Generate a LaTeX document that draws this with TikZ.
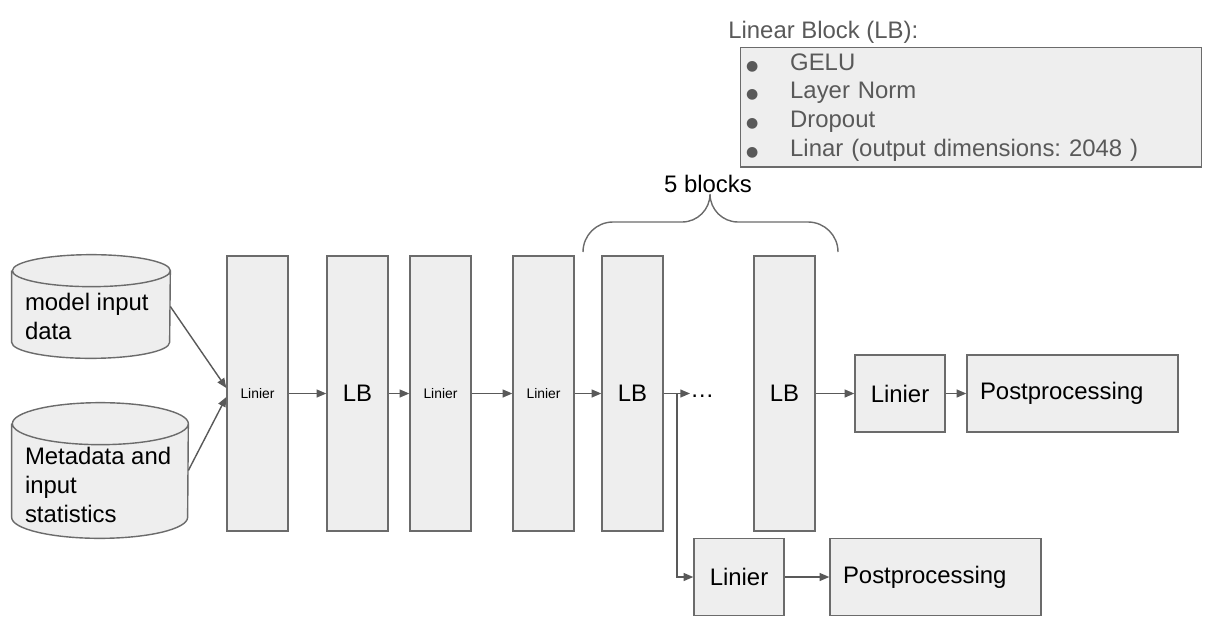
\documentclass[tikz,border=0pt]{standalone}
\usepackage{fontspec}
\setmainfont{Liberation Sans}
\newfontfamily\bulletfont{DejaVu Sans}
\usetikzlibrary{arrows.meta}
\frenchspacing

\definecolor{boxfill}{HTML}{EEEEEE}
\definecolor{boxline}{HTML}{6B6B6B}
\definecolor{arrowgray}{HTML}{595959}
\definecolor{legendtext}{HTML}{595959}

\newcommand{\lbitem}[1]{\makebox[0.88cm][l]{\bulletfont\fontsize{8}{8}\selectfont ●}#1}

\begin{document}
\begin{tikzpicture}[x=0.02cm, y=-0.02cm, font=\fontsize{13.6}{16.3}\selectfont]
\tikzstyle{tall_block}=[rectangle, draw=boxline, fill=boxfill, line width=0.8pt, minimum width=1.22cm, minimum height=5.5cm, inner sep=0pt];
\tikzstyle{out_block}=[rectangle, draw=boxline, fill=boxfill, line width=0.8pt, minimum height=1.54cm, inner xsep=0.26cm, inner ysep=0pt, align=left];
\tikzstyle{store_box}=[rectangle, inner sep=0pt];
\tikzstyle{store_text}=[align=left, anchor=west, inner sep=0pt, xshift=0.26cm];
\tikzstyle{store_line}=[draw=boxline, fill=boxfill, line width=0.8pt];
\tikzstyle{small_text}=[font=\fontsize{7.9}{9}\selectfont];
\tikzstyle{arrow}=[-{Triangle[length=5.5pt,width=4.5pt]}, draw=arrowgray, line width=0.8pt];
\tikzstyle{brace_line}=[draw=boxline, line width=0.8pt];

\useasboundingbox (0,0) rectangle (1223,639);

\node [store_box, minimum width=3.16cm, minimum height=2.06cm] at (91,306.5) (model data) {};
\node [store_box, minimum width=3.52cm, minimum height=2.7cm] at (100,470.5) (meta data) {};

\draw[store_line] ([yshift=-0.32cm]model data.north west) -- ([yshift=0.32cm]model data.south west)
  arc[start angle=180, end angle=360, x radius=1.58cm, y radius=0.32cm] -- ([yshift=-0.32cm]model data.north east)
  arc[start angle=0, end angle=180, x radius=1.58cm, y radius=0.32cm]
  arc[start angle=180, end angle=360, x radius=1.58cm, y radius=0.32cm];
\draw[store_line] ([yshift=-0.42cm]meta data.north west) -- ([yshift=0.42cm]meta data.south west)
  arc[start angle=180, end angle=360, x radius=1.76cm, y radius=0.42cm] -- ([yshift=-0.42cm]meta data.north east)
  arc[start angle=0, end angle=180, x radius=1.76cm, y radius=0.42cm]
  arc[start angle=180, end angle=360, x radius=1.76cm, y radius=0.42cm];

\node [store_text, yshift=-0.2cm] at (model data.west) (model text) {model input\\data};
\node [store_text, yshift=-0.29cm] at (meta data.west) (meta text) {Metadata and\\input\\statistics};

\node [tall_block, small_text] at (257.5,393.5) (linier 1) {Linier};
\node [tall_block] at (357.5,393.5) (lb 1) {LB};
\node [tall_block, small_text] at (440.5,393.5) (linier 2) {Linier};
\node [tall_block, small_text] at (543.5,393.5) (linier 3) {Linier};
\node [tall_block] at (632.5,393.5) (lb 2) {LB};
\node [inner sep=0pt, anchor=west] at (690,396) (dots) {\dots};
\node [tall_block] at (784.5,393.5) (lb 3) {LB};

\node [out_block, minimum width=1.8cm] at (900,393.5) (linier top) {Linier};
\node [out_block, minimum width=4.22cm, text width=3.7cm] at (1072.5,393.5) (post top) {Postprocessing};
\node [out_block, minimum width=1.8cm] at (739,577) (linier bottom) {Linier};
\node [out_block, minimum width=4.22cm, text width=3.7cm] at (935.5,577) (post bottom) {Postprocessing};

\node [anchor=west, inner sep=0pt, text=legendtext] at (728,32) (lb title) {Linear Block (LB):};
\node [rectangle, draw=boxline, fill=boxfill, line width=0.8pt, anchor=north west, minimum width=9.22cm, minimum height=2.32cm, inner xsep=0.1cm, text width=9.0cm, align=left, text=legendtext] at (740,47) (lb list) {\lbitem{GELU}\\\lbitem{Layer Norm}\\\lbitem{Dropout}\\\lbitem{Linar (output dimensions: 2048 )}};

\node [inner sep=0pt] at (708,184) (n blocks) {5 blocks};
\draw[brace_line] (583,252) .. controls (583,235.4) and (596.4,222) .. (613,222) -- (682,222) .. controls (697.5,222) and (710,209.5) .. (710,194) .. controls (710,209.5) and (722.5,222) .. (738,222) -- (808,222) .. controls (824.6,222) and (838,235.4) .. (838,252);

\coordinate (split) at (677,393.5);

\draw[arrow] (model data.east) -- ([yshift=0.11cm]linier 1.west);
\draw[arrow] (meta data.east) -- ([yshift=-0.07cm]linier 1.west);
\draw[arrow] (linier 1) -- (lb 1);
\draw[arrow] (lb 1) -- (linier 2);
\draw[arrow] (linier 2) -- (linier 3);
\draw[arrow] (linier 3) -- (lb 2);
\draw[arrow] (lb 2.east) -- (lb 2.east -| dots.west);
\draw[arrow] (split) |- (linier bottom.west);
\draw[arrow] (lb 3) -- (linier top);
\draw[arrow] (linier top) -- (post top);
\draw[arrow] (linier bottom) -- (post bottom);

\end{tikzpicture}
\end{document}
